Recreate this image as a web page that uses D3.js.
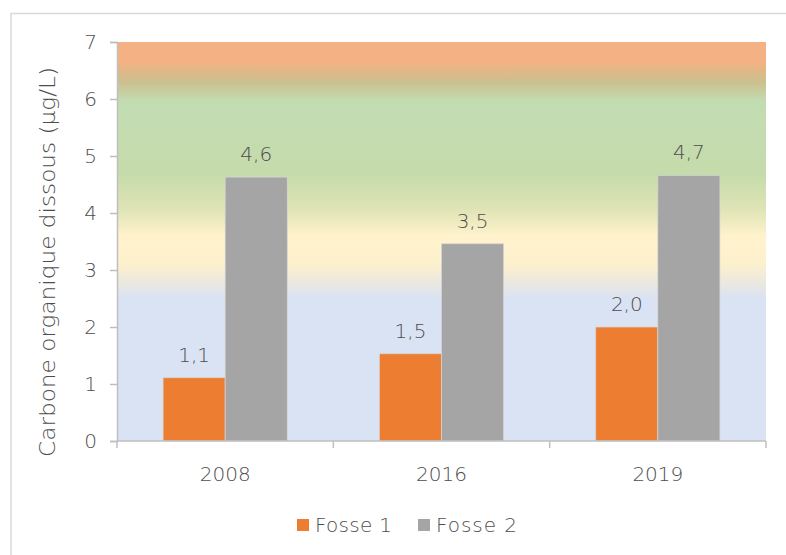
<!DOCTYPE html>
<html><head><meta charset="utf-8">
<script src="https://cdn.jsdelivr.net/npm/d3@7"></script>
<style>
html,body{margin:0;padding:0;background:#fff;overflow:hidden}
text{font-family:"DejaVu Sans",sans-serif;fill:#4d4d4d;font-weight:200}
</style></head>
<body>
<svg id="c" width="786" height="555"></svg>
<script>
const years = ["2008", "2016", "2019"];
const seriesNames = ["Fosse 1", "Fosse 2"];
const fosse1 = [1.11, 1.53, 2.0];
const fosse2 = [4.63, 3.46, 4.66];
const seriesColors = ["#ed7d31", "#a5a5a5"];
const yTicks = [0, 1, 2, 3, 4, 5, 6, 7];
const yTitle = "Carbone organique dissous (µg/L)";
// background gradient stops: [value, colour]
const bgStops = [[7, "#f4b183"], [6.65, "#f4b183"], [6.3, "#cbc08e"], [5.95, "#c2dcb2"],
  [4.67, "#c6dbab"], [4.05, "#e0e4b6"], [3.6, "#fff2cc"], [3.1, "#fdf0cd"],
  [2.74, "#e9e7e2"], [2.5, "#dae3f3"], [0, "#dae3f3"]];

const svg = d3.select("#c");
const M = {l: 117, r: 766, t: 42, b: 441};
const x0 = d3.scaleBand().domain(years).range([M.l, M.r]).paddingInner(0).paddingOuter(0);
const x1 = d3.scaleBand().domain(seriesNames).range([0, x0.bandwidth()]).paddingInner(0).paddingOuter(0.742);
const y = d3.scaleLinear().domain([0, 7]).range([M.b, M.t]);

// chart border
svg.append("path").attr("d", `M11,555 V13.5 H786`).attr("fill", "none").attr("stroke", "#d9d9d9").attr("stroke-width", 1.5);

// gradient
const defs = svg.append("defs");
const g = defs.append("linearGradient").attr("id", "bg").attr("gradientUnits", "userSpaceOnUse")
  .attr("x1", 0).attr("x2", 0).attr("y1", y(7)).attr("y2", y(0));
bgStops.forEach(([v, c]) => g.append("stop").attr("offset", (y(v) - y(7)) / (y(0) - y(7))).attr("stop-color", c));
svg.append("rect").attr("x", M.l).attr("y", y(7)).attr("width", M.r - M.l).attr("height", y(0) - y(7)).attr("fill", "url(#bg)");

// bars
const data = [fosse1, fosse2];
const fmt = v => d3.format(".1f")(v).replace(".", ",");
seriesNames.forEach((s, si) => {
  const gs = svg.append("g");
  years.forEach((yr, i) => {
    const v = data[si][i];
    gs.append("rect").attr("x", x0(yr) + x1(s)).attr("y", y(v)).attr("width", x1.bandwidth()).attr("height", y(0) - y(v))
      .attr("fill", seriesColors[si]).attr("stroke", "#d6d6d6").attr("stroke-width", 0.7);
    gs.append("text").attr("x", x0(yr) + x1(s) + x1.bandwidth() / 2).attr("y", y(v) - 16)
      .attr("text-anchor", "middle").attr("font-size", 20).text(fmt(v));
  });
});

// y axis
const ya = svg.append("g").attr("transform", `translate(${M.l},0)`)
  .call(d3.axisLeft(y).tickValues(yTicks).tickSize(7).tickPadding(13).tickFormat(d3.format("d")));
ya.selectAll("path,line").attr("stroke", "#bfbfbf").attr("stroke-width", 1.5);
ya.selectAll("text").attr("font-size", 20).attr("fill", "#4d4d4d").style("font-family", "DejaVu Sans").style("font-weight", 200);

// x axis
const xa = svg.append("g").attr("transform", `translate(0,${M.b})`);
xa.append("line").attr("x1", M.l).attr("x2", M.r).attr("stroke", "#bfbfbf").attr("stroke-width", 1.5);
const bounds = years.map(yr => x0(yr)).concat([x0(years[years.length - 1]) + x0.bandwidth()]);
bounds.forEach(b => xa.append("line").attr("x1", b).attr("x2", b).attr("y1", 0).attr("y2", 7).attr("stroke", "#bfbfbf").attr("stroke-width", 1.5));
years.forEach(yr => xa.append("text").attr("x", x0(yr) + x0.bandwidth() / 2).attr("y", 40)
  .attr("text-anchor", "middle").attr("font-size", 20).text(yr));

// y title
svg.append("text").attr("transform", `translate(55,262) rotate(-90)`)
  .attr("text-anchor", "middle").attr("font-size", 22).attr("textLength", 390).attr("lengthAdjust", "spacingAndGlyphs").text(yTitle);

// legend
const lg = svg.append("g");
const legX = [297, 418];
seriesNames.forEach((s, i) => {
  lg.append("rect").attr("x", legX[i]).attr("y", 519).attr("width", 12).attr("height", 12).attr("fill", seriesColors[i]);
  lg.append("text").attr("x", legX[i] + 18).attr("y", 532).attr("font-size", 20).attr("textLength", i ? 81 : 77).text(s);
});
</script>
</body></html>
